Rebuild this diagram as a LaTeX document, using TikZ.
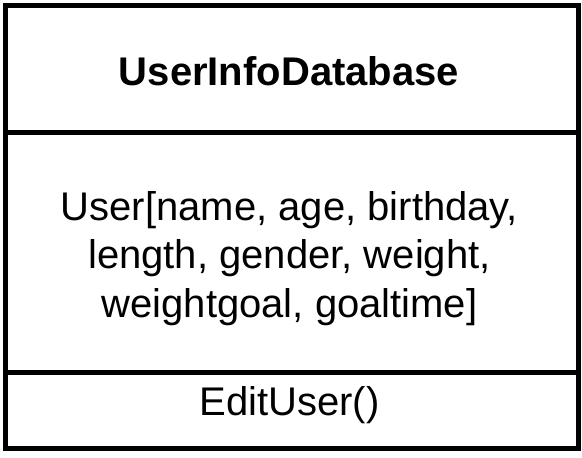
\documentclass[tikz,border=0pt]{standalone}
\usepackage{fontspec}
\setmainfont{Liberation Sans}
\usetikzlibrary{positioning}

\tikzset{
  part/.style={draw,line width=5pt,minimum width=572.5pt,inner sep=0pt},
  label/.style={font=\fontsize{40}{48.5}\selectfont,inner sep=0pt,anchor=base}
}

\begin{document}
\begin{tikzpicture}[x=1pt,y=-1pt]
	\useasboundingbox (0,0) rectangle (582,458);
	\node[part,minimum height=126.5pt] at (291.75,68.75) (head) {};
	\node[part,minimum height=240pt] at (291.75,252) (body) {};
	\node[part,minimum height=76pt] at (291.75,410) (foot) {};
	\node[label] at (289,85) (title) {\bfseries UserInfoDatabase};
	\node[label] at (289.5,220) (attra) {User[name, age, birthday,};
	\node[label] at (289.5,268.5) (attrb) {length, gender, weight,};
	\node[label] at (289.5,317) (attrc) {weightgoal, goaltime]};
	\node[label] at (289.5,415) (ops) {EditUser()};
\end{tikzpicture}
\end{document}
